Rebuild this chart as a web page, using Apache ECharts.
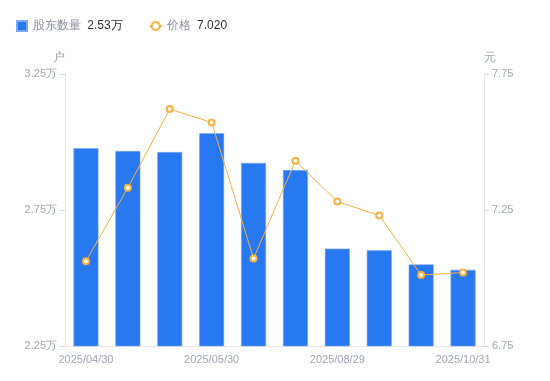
<!DOCTYPE html>
<html>
<head>
<meta charset="utf-8">
<script src="https://cdn.jsdelivr.net/npm/echarts@6/dist/echarts.min.js"></script>
<style>
html,body{margin:0;padding:0;background:#fff;}
#main{width:550px;height:381px;}
</style>
</head>
<body>
<div id="main"></div>
<script>
// 日期
var dates = ['2025/04/30', '2025/05/09', '2025/05/20', '2025/05/30', '2025/06/10',
             '2025/06/30', '2025/08/29', '2025/09/10', '2025/09/30', '2025/10/31'];
// 股东数量（万户）
var holders = [2.977, 2.967, 2.963, 3.032, 2.923, 2.897, 2.608, 2.602, 2.550, 2.530];
// 价格（元）
var prices = [7.062, 7.332, 7.621, 7.572, 7.072, 7.431, 7.281, 7.230, 7.011, 7.020];
// 刻度
var leftTicks = [2.25, 2.75, 3.25];
var rightTicks = [6.75, 7.25, 7.75];

var labelColor = '#a3a6b4';
var lineColor = '#e6e6e6';

var myChart = echarts.init(document.getElementById('main'));
var option = {
    animation: false,
    legend: {
        left: 11,
        top: 15,
        itemWidth: 12,
        itemHeight: 10,
        itemGap: 26,
        itemTextGap: 3,
        textStyle: {
            fontSize: 12,
            rich: {
                n: {color: '#8c909a', fontSize: 12},
                v: {color: '#333', fontSize: 12, padding: [0, 0, 0, 3]}
            }
        },
        formatter: function(name) {
            if (name == '股东数量') {
                return '{n|' + name + '} {v|' + holders[holders.length - 1].toFixed(2) + '万}';
            }
            return '{n|' + name + '} {v|' + prices[prices.length - 1].toFixed(3) + '}';
        },
        data: [
            {name: '股东数量', icon: 'path://M0,0H10V10H0Z'},
            {name: '价格'}
        ]
    },
    grid: {
        left: 65,
        right: 66,
        top: 74,
        bottom: 35
    },
    xAxis: {
        type: 'category',
        data: dates,
        axisLine: {lineStyle: {color: lineColor}},
        axisTick: {show: false},
        axisLabel: {
            interval: 2,
            color: labelColor,
            fontSize: 11,
            margin: 8
        }
    },
    yAxis: [{
        type: 'value',
        name: '户',
        nameGap: 10,
        nameTextStyle: {color: labelColor, fontSize: 12, align: 'right'},
        min: leftTicks[0],
        max: leftTicks[leftTicks.length - 1],
        interval: 0.5,
        axisLine: {show: true, lineStyle: {color: lineColor}},
        axisTick: {show: true, length: 5, lineStyle: {color: '#d8d8d8'}},
        splitLine: {show: false},
        axisLabel: {
            color: labelColor,
            fontSize: 11,
            margin: 8,
            formatter: function(v) { return v.toFixed(2) + '万'; }
        }
    }, {
        type: 'value',
        name: '元',
        nameGap: 10,
        nameTextStyle: {color: labelColor, fontSize: 12, align: 'left'},
        min: rightTicks[0],
        max: rightTicks[rightTicks.length - 1],
        interval: 0.5,
        axisLine: {show: true, lineStyle: {color: lineColor}},
        axisTick: {show: true, length: 5, lineStyle: {color: '#d8d8d8'}},
        splitLine: {show: false},
        axisLabel: {
            color: labelColor,
            fontSize: 11,
            margin: 8,
            formatter: function(v) { return v.toFixed(2); }
        }
    }],
    series: [{
        name: '股东数量',
        type: 'bar',
        yAxisIndex: 0,
        barWidth: 25,
        data: holders,
        itemStyle: {color: '#2878f2', borderColor: '#7aaaf5', borderWidth: 0.6}
    }, {
        name: '价格',
        type: 'line',
        yAxisIndex: 1,
        data: prices,
        symbol: 'emptyCircle',
        symbolSize: 6,
        itemStyle: {color: '#f8b13d', borderWidth: 2},
        lineStyle: {color: '#f8b13d', width: 1}
    }]
};
myChart.setOption(option);
</script>
</body>
</html>
